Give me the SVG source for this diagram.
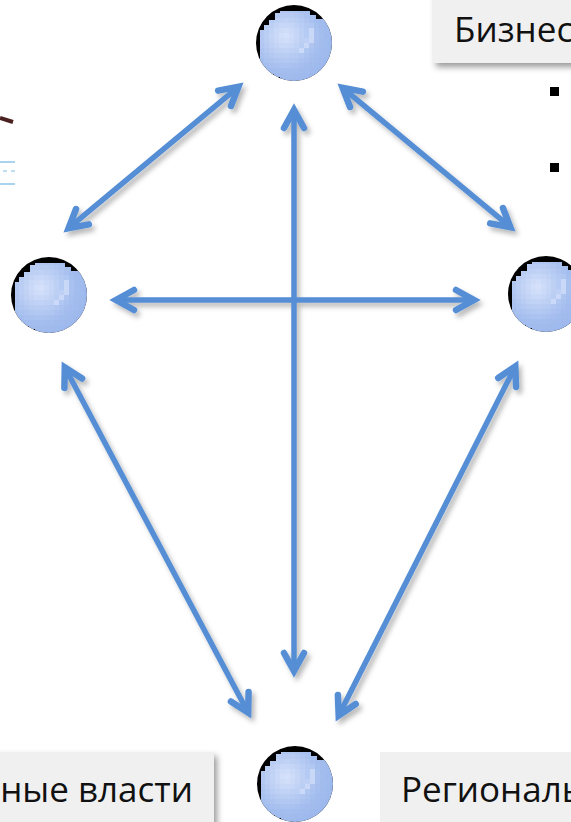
<svg xmlns="http://www.w3.org/2000/svg" width="571" height="822" viewBox="0 0 571 822">
<style>
.box{fill:#f0f0f0}
.label{font-family:"Open Sans","Noto Sans","Liberation Sans",sans-serif;font-size:35px;fill:#111}
.arrow{fill:none;stroke:#558ed5;stroke-width:5.500;marker-start:url(#head);marker-end:url(#head)}
</style>
<defs>
<marker id="head" markerUnits="userSpaceOnUse" markerWidth="60" markerHeight="60" refX="30" refY="30" viewBox="0 0 60 60" orient="auto-start-reverse" overflow="visible">
<path d="M12 20L30 30L12 40" fill="none" stroke="#558ed5" stroke-width="6.500" stroke-linecap="round" stroke-linejoin="miter"/>
</marker>
<radialGradient id="ball" gradientUnits="userSpaceOnUse" cx="-9" cy="-7" r="50">
<stop offset="0" stop-color="#d8e3fb"/><stop offset="0.3" stop-color="#c0d2f5"/><stop offset="0.7" stop-color="#a3bdee"/><stop offset="1" stop-color="#9cb7ec"/>
</radialGradient>
<filter id="pixel" filterUnits="userSpaceOnUse" primitiveUnits="userSpaceOnUse" x="-40" y="-40" width="80" height="80" color-interpolation-filters="sRGB">
<feFlood x="-38" y="-38" width="1" height="1" flood-color="#000" result="dot"/>
<feComposite in="dot" in2="dot" operator="over" x="-40" y="-40" width="5" height="5" result="cell"/>
<feTile in="cell" x="-40" y="-40" width="80" height="80" result="tile"/>
<feComposite in="SourceGraphic" in2="tile" operator="in" result="dots"/>
<feMorphology in="dots" operator="dilate" radius="2"/>
</filter>
<filter id="sh" x="-20%" y="-20%" width="140%" height="140%"><feDropShadow dx="3" dy="4" stdDeviation="3" flood-color="#000" flood-opacity="0.4"/></filter>
<filter id="ash" x="-10%" y="-10%" width="120%" height="120%"><feDropShadow dx="3" dy="4" stdDeviation="2.500" flood-color="#000" flood-opacity="0.28"/></filter>
<clipPath id="c"><circle r="38"/></clipPath>
<clipPath id="l"><path d="M-34 17V-13H-30V-18H-25V-23H-19V-30H-14V-32H16V-28H22V-24H60V60H-14V34H-20V31H-26V27H-30V24H-32V20H-34Z"/></clipPath>
<g id="sphere">
<circle r="38" fill="#000"/>
<g clip-path="url(#c)">
<g clip-path="url(#l)">
<g filter="url(#pixel)">
<rect x="-40" y="-40" width="80" height="80" fill="url(#ball)"/>
<path d="M13-23C19-6 11 6-6 12C14 12 23 0 19-12C18-17 16-20 13-23z" fill="#dbe5fb" opacity="0.6"/>
</g>
</g>
</g>
</g>
</defs>

<g id="photo-fragment">
<path d="M0 118L13 122" stroke="#4a2020" stroke-width="4" fill="none"/>
<path d="M0 162H15M0 184H15" stroke="#a9d3ee" stroke-width="2" fill="none"/>
<path d="M3 171H7M11 171H15" stroke="#a9d3ee" stroke-width="1.500" fill="none"/>
</g>

<g id="connectors" filter="url(#ash)">
<path class="arrow" d="M68.600 228.200L238.400 86.800"/>
<path class="arrow" d="M342.600 87.800L510.400 227.200"/>
<path class="arrow" d="M294 110V671"/>
<path class="arrow" d="M116 300H474"/>
<path class="arrow" d="M64.800 367.300L248.200 712.700"/>
<path class="arrow" d="M515.300 366.400L338.700 715.600"/>
</g>

<g id="node-top"><use href="#sphere" x="294" y="43"/></g>
<g id="node-left"><use href="#sphere" x="49" y="295"/></g>
<g id="node-right"><use href="#sphere" x="546" y="294"/></g>
<g id="node-bottom"><use href="#sphere" x="295" y="784"/></g>

<g id="label-business">
<rect class="box" x="433" y="-10" width="150" height="73" filter="url(#sh)"/>
<text class="label" x="454" y="42">Бизнес</text>
<rect x="550" y="87" width="9" height="9" fill="#000"/>
<rect x="550" y="163" width="9" height="9" fill="#000"/>
</g>
<g id="label-local">
<rect class="box" x="-10" y="752" width="224" height="80" filter="url(#sh)"/>
<text class="label" x="193" y="802" text-anchor="end">ные власти</text>
</g>
<g id="label-regional">
<rect class="box" x="380" y="752" width="200" height="80"/>
<text class="label" x="401" y="802">Региональ</text>
</g>
</svg>
